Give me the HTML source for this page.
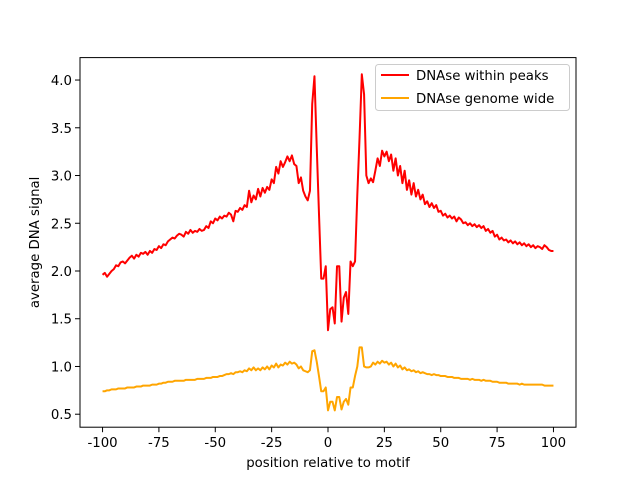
<!DOCTYPE html>
<html><head><meta charset="utf-8"><style>
body{margin:0;background:#fff}
svg{display:block;font-family:"DejaVu Sans","Liberation Sans",sans-serif}
</style></head><body>
<svg id="chart" width="640" height="480"></svg>
<script>
const xStart=-100;
const redValues=[1.96,1.98,1.94,1.97,2.00,2.02,2.06,2.05,2.09,2.10,
2.08,2.11,2.14,2.16,2.13,2.17,2.15,2.19,2.18,2.20,
2.17,2.21,2.19,2.23,2.22,2.26,2.24,2.28,2.27,2.31,
2.33,2.35,2.34,2.37,2.39,2.38,2.36,2.41,2.39,2.43,
2.40,2.42,2.41,2.44,2.42,2.43,2.47,2.45,2.52,2.50,
2.55,2.53,2.57,2.55,2.58,2.57,2.61,2.59,2.52,2.63,
2.62,2.66,2.64,2.69,2.67,2.84,2.72,2.79,2.75,2.86,
2.78,2.87,2.82,2.88,2.85,2.96,2.92,3.09,3.02,3.15,
3.09,3.14,3.20,3.15,3.21,3.12,3.10,2.92,2.98,2.84,
2.78,2.74,2.84,3.75,4.04,3.30,2.60,1.92,1.92,2.05,
1.38,1.60,1.62,1.45,2.05,2.05,1.47,1.72,1.78,1.55,2.10,
2.05,2.10,2.80,3.40,4.06,3.85,3.00,2.92,2.97,2.93,
3.05,3.18,3.10,3.26,3.20,3.25,3.15,3.22,3.05,3.18,
3.00,3.10,2.92,3.05,2.85,2.95,2.80,2.92,2.78,2.85,
2.75,2.80,2.70,2.73,2.67,2.71,2.66,2.69,2.62,2.63,
2.58,2.60,2.56,2.58,2.55,2.57,2.52,2.56,2.54,2.50,
2.51,2.48,2.50,2.47,2.49,2.46,2.48,2.45,2.47,2.42,
2.44,2.40,2.42,2.36,2.38,2.33,2.35,2.32,2.33,2.30,
2.32,2.29,2.31,2.28,2.30,2.27,2.29,2.26,2.28,2.25,
2.27,2.24,2.26,2.25,2.23,2.27,2.25,2.22,2.21,2.21];
const orangeValues=[0.74,0.74,0.75,0.75,0.76,0.76,0.76,0.77,0.77,0.77,
0.77,0.78,0.78,0.78,0.78,0.79,0.79,0.79,0.80,0.80,
0.80,0.80,0.81,0.81,0.81,0.82,0.82,0.83,0.83,0.84,
0.84,0.84,0.85,0.85,0.85,0.85,0.85,0.86,0.86,0.86,
0.86,0.86,0.87,0.87,0.87,0.87,0.88,0.88,0.88,0.89,
0.89,0.89,0.90,0.90,0.91,0.92,0.92,0.93,0.92,0.94,
0.94,0.95,0.94,0.96,0.95,0.98,0.96,0.99,0.96,0.98,
0.96,0.99,0.97,1.00,0.97,1.01,0.99,1.03,0.99,1.02,
1.01,1.04,1.02,1.05,1.03,1.04,1.02,0.98,1.00,0.96,
0.95,0.94,0.96,1.16,1.17,1.05,0.90,0.74,0.74,0.78,
0.54,0.63,0.63,0.54,0.68,0.68,0.55,0.63,0.66,0.60,0.78,
0.78,0.90,1.00,1.20,1.20,1.00,0.99,0.99,1.00,1.04,
1.02,1.05,1.03,1.06,1.04,1.05,1.02,1.04,1.00,1.03,
0.99,1.01,0.97,0.99,0.96,0.97,0.95,0.96,0.94,0.95,
0.93,0.94,0.93,0.92,0.92,0.91,0.92,0.91,0.91,0.90,
0.90,0.90,0.89,0.89,0.89,0.88,0.88,0.88,0.87,0.87,
0.87,0.87,0.86,0.87,0.86,0.86,0.86,0.85,0.86,0.85,
0.85,0.85,0.84,0.84,0.84,0.83,0.83,0.83,0.83,0.82,
0.82,0.82,0.82,0.82,0.81,0.82,0.81,0.81,0.81,0.81,
0.81,0.81,0.81,0.81,0.81,0.80,0.80,0.80,0.80,0.80];
const xTicks=[-100,-75,-50,-25,0,25,50,75,100];
const yTicks=[0.5,1.0,1.5,2.0,2.5,3.0,3.5,4.0];
const seriesNames=["DNAse within peaks","DNAse genome wide"];

const L=80,R=576,T=57.6,B=427.2,FS=13.3;
const xMin=-110,xMax=110,yMin=0.364,yMax=4.235;
const sx=v=>L+(v-xMin)/(xMax-xMin)*(R-L);
const sy=v=>B-(v-yMin)/(yMax-yMin)*(B-T);
const svg=document.getElementById('chart');
const NS='http://www.w3.org/2000/svg';
function mk(tag,attrs,parent){const e=document.createElementNS(NS,tag);for(const k in attrs)e.setAttribute(k,attrs[k]);(parent||svg).appendChild(e);return e;}

function drawLine(vals,color,name){
  const d=vals.map((v,i)=>(i?'L':'M')+sx(xStart+i).toFixed(2)+','+sy(v).toFixed(2)).join('');
  const p=mk('path',{d:d,fill:'none',stroke:color,'stroke-width':2,'stroke-linejoin':'round'});
  
  
}
drawLine(redValues,'#ff0000','series-within-peaks');
drawLine(orangeValues,'#ffa500','series-genome-wide');

const frame=mk('rect',{x:L,y:T,width:R-L,height:B-T,fill:'none',stroke:'#000','stroke-width':1});



xTicks.forEach(t=>{
  const x=sx(t);
  mk('line',{x1:x,x2:x,y1:B,y2:B+5,stroke:'#000','stroke-width':1});
  const tx=mk('text',{x:x,y:B+20,'text-anchor':'middle','font-size':FS});
  tx.textContent=t;
  
  
});
yTicks.forEach(t=>{
  const y=sy(t);
  mk('line',{x1:L-5,x2:L,y1:y,y2:y,stroke:'#000','stroke-width':1});
  const tx=mk('text',{x:L-8,y:y+5,'text-anchor':'end','font-size':FS});
  tx.textContent=t.toFixed(1);
  
  
});
const xt=mk('text',{x:(L+R)/2,y:467,'text-anchor':'middle','font-size':FS});
xt.textContent='position relative to motif';


const yt=mk('text',{x:0,y:0,'text-anchor':'middle','font-size':FS,transform:'translate(39,'+((T+B)/2)+') rotate(-90)'});
yt.textContent='average DNA signal';



const lg=mk('g',{});


mk('rect',{x:375.5,y:64.5,width:194,height:46,rx:3,fill:'#fff','fill-opacity':0.8,stroke:'#ccc','stroke-width':1},lg);
const colors=['#ff0000','#ffa500'];
seriesNames.forEach((n,i)=>{
  const y=75+i*23;
  const ln=mk('line',{x1:381,x2:409,y1:y,y2:y,stroke:colors[i],'stroke-width':2},lg);
  
  
  const tx=mk('text',{x:416,y:y+5,'font-size':FS},lg);
  tx.textContent=n;
  
  
});
</script>
</body></html>
